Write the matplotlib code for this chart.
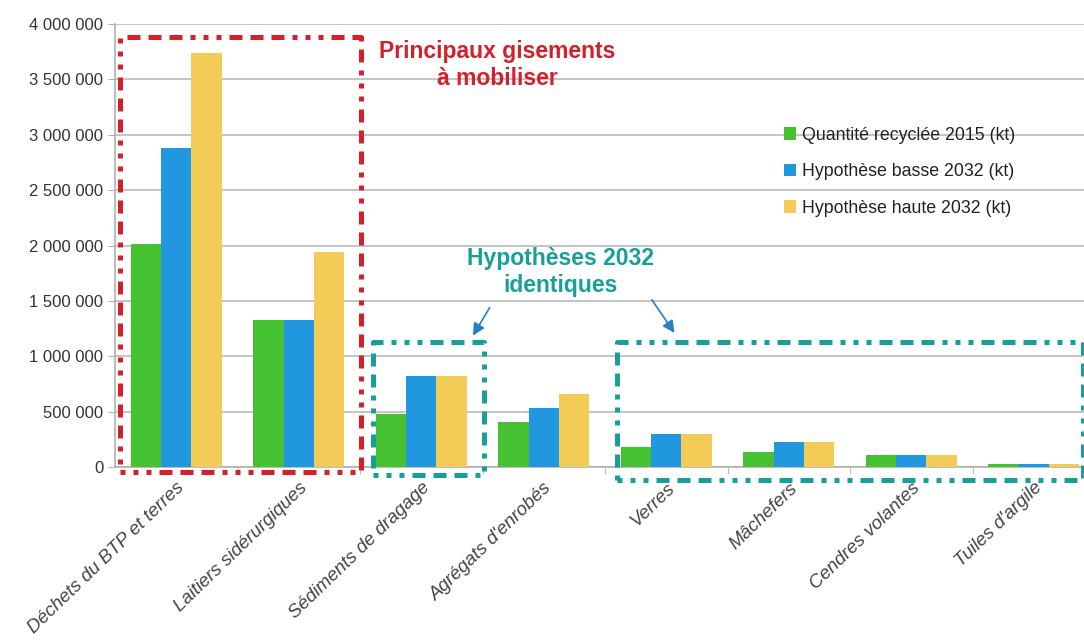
import numpy as np
import matplotlib
matplotlib.use("Agg")
import matplotlib.pyplot as plt
from matplotlib.ticker import FuncFormatter, FixedLocator

plt.rcParams['font.family'] = ['Liberation Sans', 'DejaVu Sans']

categories = ["Déchets du BTP et terres", "Laitiers sidérurgiques", "Sédiments de dragage",
              "Agrégats d'enrobés", "Verres", "Mâchefers", "Cendres volantes", "Tuiles d'argile"]
recycle_2015 = [2010000, 1330000, 480000, 405000, 180000, 135000, 105000, 30000]
basse_2032 = [2880000, 1330000, 825000, 530000, 300000, 230000, 105000, 30000]
haute_2032 = [3740000, 1940000, 825000, 655000, 300000, 230000, 105000, 30000]
series_names = ["Quantité recyclée 2015 (kt)", "Hypothèse basse 2032 (kt)", "Hypothèse haute 2032 (kt)"]
colors = ["#45c132", "#2097df", "#f3cb57"]

red = "#d3202a"
teal = "#17a09b"
arrow_blue = "#2380c8"

fig = plt.figure(figsize=(10.84, 6.43), dpi=100)
ax = fig.add_axes([115 / 1084, 1 - 467 / 643, 969 / 1084, 443 / 643])

x = np.arange(len(categories))
w = 0.248
for i, (vals, name) in enumerate(zip([recycle_2015, basse_2032, haute_2032], series_names)):
    ax.bar(x + (i - 1) * w, vals, width=w, color=colors[i], label=name, zorder=3)

ax.set_xlim(-0.5, 7.41)
ax.set_ylim(0, 4000000)
ax.yaxis.set_major_locator(FixedLocator(np.arange(0, 4000001, 500000)))
ax.yaxis.set_major_formatter(FuncFormatter(lambda v, p: f"{int(v):,}".replace(",", " ")))
ax.grid(axis='y', color="#c4c4c4", linewidth=1.4, zorder=0)
for s in ["top", "right"]:
    ax.spines[s].set_visible(False)
for s in ["left", "bottom"]:
    ax.spines[s].set_color("#b0b0b0")
    ax.spines[s].set_linewidth(1.2)
ax.tick_params(axis='y', colors="#b0b0b0", labelcolor="#333333", labelsize=12, length=5)

ax.set_xticks(x)
ax.set_xticklabels(categories, rotation=44, ha='right', rotation_mode='anchor',
                   fontsize=13.5, style='italic', color="#444444")
ax.set_xticks(np.arange(0.5, 7.5, 1), minor=True)
ax.tick_params(axis='x', which='major', length=0, pad=9)
ax.tick_params(axis='x', which='minor', length=5, color="#b0b0b0")

leg = ax.legend(loc='upper left', bbox_to_anchor=(0.683, 0.784), frameon=False,
                fontsize=12.8, handlelength=0.7, handleheight=0.7, handletextpad=0.3,
                labelspacing=1.1, borderaxespad=0)
for t in leg.get_texts():
    t.set_color("#222222")

# dotted/dashed frames: three dots then three dashes
box_dash = (0, (1, 1.6, 1, 1.6, 1, 1.6, 2.6, 1.6, 2.6, 1.6, 2.6, 1.6))
def box(x0, x1, y0, y1, color):
    ax.plot([x0, x1, x1, x0, x0], [y0, y0, y1, y1, y0], color=color, linewidth=3.6,
            linestyle=box_dash, clip_on=False, zorder=5, dash_capstyle='butt')

box(-0.46, 1.51, -45000, 3880000, red)
box(1.61, 2.51, -75000, 1130000, teal)
box(3.60, 7.40, -120000, 1130000, teal)

ax.text(2.62, 3630000, "Principaux gisements\nà mobiliser", color=red, fontsize=16.5,
        fontweight='bold', ha='center', va='center', linespacing=1.2, zorder=6)
ax.text(3.14, 1760000, "Hypothèses 2032\nidentiques", color=teal, fontsize=16.5,
        fontweight='bold', ha='center', va='center', linespacing=1.2, zorder=6)

ax.annotate("", xy=(2.41, 1165000), xytext=(2.57, 1460000),
            arrowprops=dict(arrowstyle="-|>", color=arrow_blue, lw=1.2, mutation_scale=18), zorder=6)
ax.annotate("", xy=(4.08, 1190000), xytext=(3.87, 1530000),
            arrowprops=dict(arrowstyle="-|>", color=arrow_blue, lw=1.2, mutation_scale=18), zorder=6)

fig.savefig("out.png", dpi=100, facecolor="white")
